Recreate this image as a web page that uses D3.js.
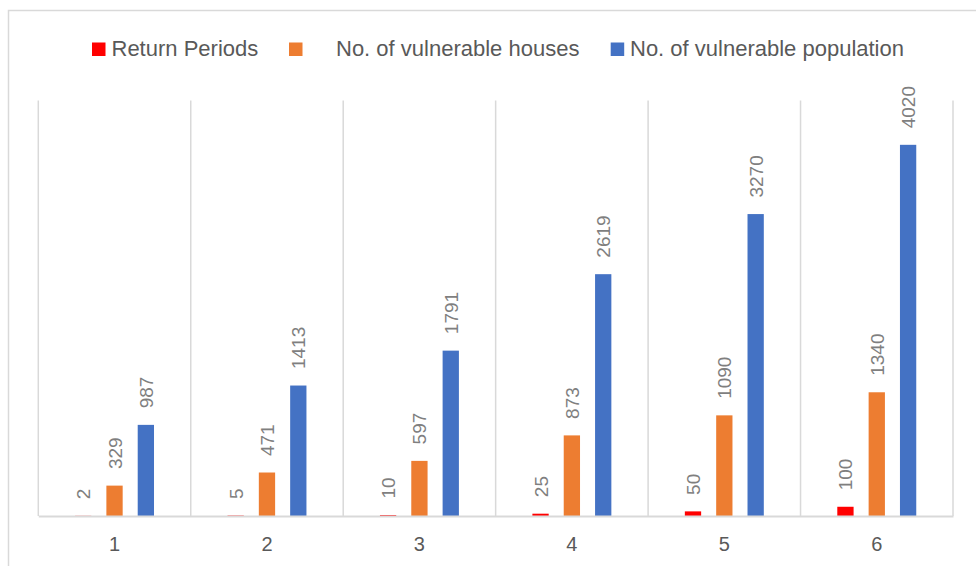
<!DOCTYPE html>
<html>
<head>
<meta charset="utf-8">
<script src="https://cdn.jsdelivr.net/npm/d3@7/dist/d3.min.js"></script>
<style>
  html, body { margin: 0; padding: 0; background: #ffffff; }
  svg { display: block; }
</style>
</head>
<body>
<svg id="chart" width="976" height="566"></svg>
<script>
// Return periods and exposure counts per scenario
const categories = ["1", "2", "3", "4", "5", "6"];
const seriesNames = ["Return Periods", "No. of vulnerable houses", "No. of vulnerable population"];
const returnPeriods = [2, 5, 10, 25, 50, 100];
const vulnerableHouses = [329, 471, 597, 873, 1090, 1340];
const vulnerablePopulation = [987, 1413, 1791, 2619, 3270, 4020];
const seriesColors = ["#FF0000", "#ED7D31", "#4472C4"];
const yMax = 4500;

const seriesValues = [returnPeriods, vulnerableHouses, vulnerablePopulation];

const svg = d3.select("#chart");

// chart frame
svg.append("rect")
  .attr("x", 8.5).attr("y", 10.5)
  .attr("width", 1000).attr("height", 600)
  .attr("fill", "none")
  .attr("stroke", "#d9d9d9")
  .attr("stroke-width", 1.5);

const plot = { left: 38.3, right: 953, top: 100.5, bottom: 516 };

const x0 = d3.scaleBand()
  .domain(categories)
  .range([plot.left, plot.right])
  .paddingInner(0).paddingOuter(0);

const cw = x0.bandwidth();
const x1 = d3.scaleBand()
  .domain(seriesNames)
  .range([cw / 2 - 47, cw / 2 + 47])
  .paddingInner(0.48)
  .paddingOuter(0.24);

const y = d3.scaleLinear().domain([0, yMax]).range([plot.bottom, plot.top]);

// vertical gridlines between categories
const bounds = categories.map(c => x0(c)).concat([plot.right]);
svg.append("g").selectAll("line")
  .data(bounds)
  .join("line")
  .attr("x1", d => d).attr("x2", d => d)
  .attr("y1", plot.top).attr("y2", plot.bottom)
  .attr("stroke", "#d9d9d9")
  .attr("stroke-width", 1.5);

// bars
const groups = svg.append("g").selectAll("g")
  .data(categories)
  .join("g")
  .attr("transform", c => `translate(${x0(c)},0)`);

groups.each(function (c, ci) {
  const g = d3.select(this);
  seriesNames.forEach((s, si) => {
    const v = seriesValues[si][ci];
    g.append("rect")
      .attr("x", x1(s))
      .attr("y", y(v))
      .attr("width", x1.bandwidth())
      .attr("height", y(0) - y(v))
      .attr("fill", seriesColors[si]);
    const cx = x1(s) + x1.bandwidth() / 2;
    const ty = y(v) - 16.5;
    g.append("text")
      .attr("transform", `translate(${cx + 7},${ty}) rotate(-90)`)
      .attr("text-anchor", "start")
      .attr("font-family", "Liberation Sans, Arial, sans-serif")
      .attr("font-size", 19)
      .attr("fill", "#7f7f7f")
      .text(v);
  });
});

// category axis
const xAxis = d3.axisBottom(x0).tickSize(0).tickPadding(21);
const axisG = svg.append("g")
  .attr("transform", `translate(0,${plot.bottom})`)
  .call(xAxis);
axisG.select(".domain")
  .attr("stroke", "#d9d9d9")
  .attr("stroke-width", 2);
axisG.selectAll("text")
  .attr("font-family", "Liberation Sans, Arial, sans-serif")
  .attr("font-size", 20)
  .attr("fill", "#595959");

// legend
const legendSquares = [92, 289, 610.7];
const legendTexts = [111.5, 336, 630];
const legend = svg.append("g");
seriesNames.forEach((s, i) => {
  legend.append("rect")
    .attr("x", legendSquares[i]).attr("y", 42.5)
    .attr("width", 13.5).attr("height", 13.5)
    .attr("fill", seriesColors[i]);
  legend.append("text")
    .attr("x", legendTexts[i]).attr("y", 56)
    .attr("font-family", "Liberation Sans, Arial, sans-serif")
    .attr("font-size", 22)
    .attr("fill", "#595959")
    .text(s);
});
</script>
</body>
</html>
